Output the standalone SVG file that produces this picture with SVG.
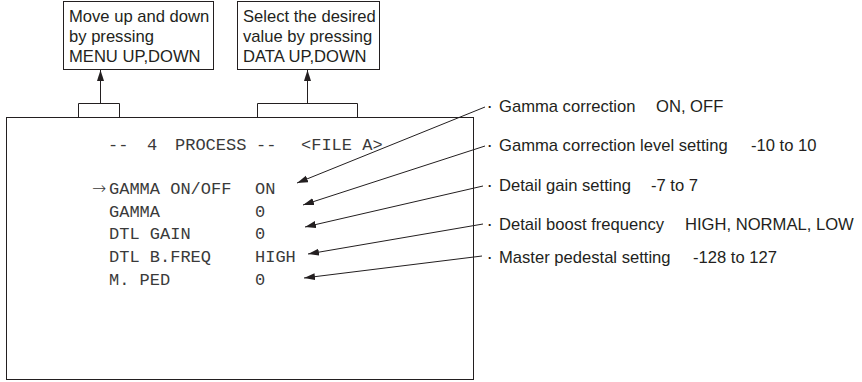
<svg xmlns="http://www.w3.org/2000/svg" width="862" height="382" viewBox="0 0 862 382">
  <style>
    .box { fill: #ffffff; stroke: #231f20; stroke-width: 1; }
    .ln { fill: none; stroke: #231f20; stroke-width: 1; }
    .sans { font-family: "Liberation Sans", Arial, sans-serif; font-size: 16.6px; fill: #231f20; }
    .mono { font-family: "Liberation Mono", "Courier New", monospace; font-size: 17px; fill: #3a3a3a; }
    .arw { font-family: "DejaVu Sans", sans-serif; font-size: 17px; font-weight: 300; }
    .dot { font-size: 19px; }
  </style>
  <defs>
    <marker id="ah" markerUnits="userSpaceOnUse" markerWidth="12" markerHeight="8" refX="11" refY="3.5" orient="auto">
      <path d="M0,0 L11,3.5 L0,7 z" fill="#231f20"/>
    </marker>
  </defs>

  <rect width="862" height="382" fill="#ffffff"/>

  <g id="note-menu">
    <rect class="box" x="63.5" y="1.5" width="150" height="68"/>
    <text class="sans" x="69" y="22">Move up and down</text>
    <text class="sans" x="69" y="42">by pressing</text>
    <text class="sans" x="69" y="62">MENU UP,DOWN</text>
  </g>

  <g id="note-data">
    <rect class="box" x="237.5" y="1.5" width="142" height="68"/>
    <text class="sans" x="243" y="22">Select the desired</text>
    <text class="sans" x="243" y="42">value by pressing</text>
    <text class="sans" x="243" y="62">DATA UP,DOWN</text>
  </g>

  <g id="screen">
    <rect class="box" x="6.5" y="117.5" width="467" height="262"/>
    <text class="mono" y="150"><tspan x="108">--</tspan><tspan x="147">4</tspan><tspan x="175">PROCESS</tspan><tspan x="256">--</tspan><tspan x="301">&lt;FILE A&gt;</tspan></text>
    <text class="mono" y="194"><tspan class="arw" x="92">→</tspan><tspan x="109">GAMMA ON/OFF</tspan><tspan x="255">ON</tspan></text>
    <text class="mono" y="217"><tspan x="109">GAMMA</tspan><tspan x="255">0</tspan></text>
    <text class="mono" y="239"><tspan x="109">DTL GAIN</tspan><tspan x="255">0</tspan></text>
    <text class="mono" y="262"><tspan x="109">DTL B.FREQ</tspan><tspan x="255">HIGH</tspan></text>
    <text class="mono" y="285"><tspan x="109">M. PED</tspan><tspan x="255">0</tspan></text>
  </g>

  <g id="label-gamma">
    <text class="sans" y="112"><tspan class="dot" x="486.5">·</tspan><tspan x="499">Gamma correction</tspan><tspan x="656">ON, OFF</tspan></text>
  </g>
  <g id="label-gamma-level">
    <text class="sans" y="151"><tspan class="dot" x="486.5">·</tspan><tspan x="499">Gamma correction level setting</tspan><tspan x="751">-10 to 10</tspan></text>
  </g>
  <g id="label-dtl-gain">
    <text class="sans" y="191"><tspan class="dot" x="486.5">·</tspan><tspan x="499">Detail gain setting</tspan><tspan x="651">-7 to 7</tspan></text>
  </g>
  <g id="label-dtl-freq">
    <text class="sans" y="230"><tspan class="dot" x="486.5">·</tspan><tspan x="499">Detail boost frequency</tspan><tspan x="685">HIGH, NORMAL, LOW</tspan></text>
  </g>
  <g id="label-mped">
    <text class="sans" y="263"><tspan class="dot" x="486.5">·</tspan><tspan x="499">Master pedestal setting</tspan><tspan x="693">-128 to 127</tspan></text>
  </g>

  <g id="connectors">
    <polyline class="ln" points="78.5,117.5 78.5,103.5 119.5,103.5 119.5,117.5"/>
    <line class="ln" x1="100.5" y1="103.5" x2="100.5" y2="70" marker-end="url(#ah)"/>
    <polyline class="ln" points="257.5,117.5 257.5,103.5 357.5,103.5 357.5,117.5"/>
    <line class="ln" x1="307.5" y1="103.5" x2="307.5" y2="70" marker-end="url(#ah)"/>
    <line class="ln" x1="485" y1="107" x2="297" y2="183" marker-end="url(#ah)"/>
    <line class="ln" x1="485" y1="146" x2="303" y2="205" marker-end="url(#ah)"/>
    <line class="ln" x1="483" y1="186" x2="305" y2="227" marker-end="url(#ah)"/>
    <line class="ln" x1="483" y1="224" x2="308" y2="254" marker-end="url(#ah)"/>
    <line class="ln" x1="482" y1="256" x2="304" y2="278" marker-end="url(#ah)"/>
  </g>
</svg>
